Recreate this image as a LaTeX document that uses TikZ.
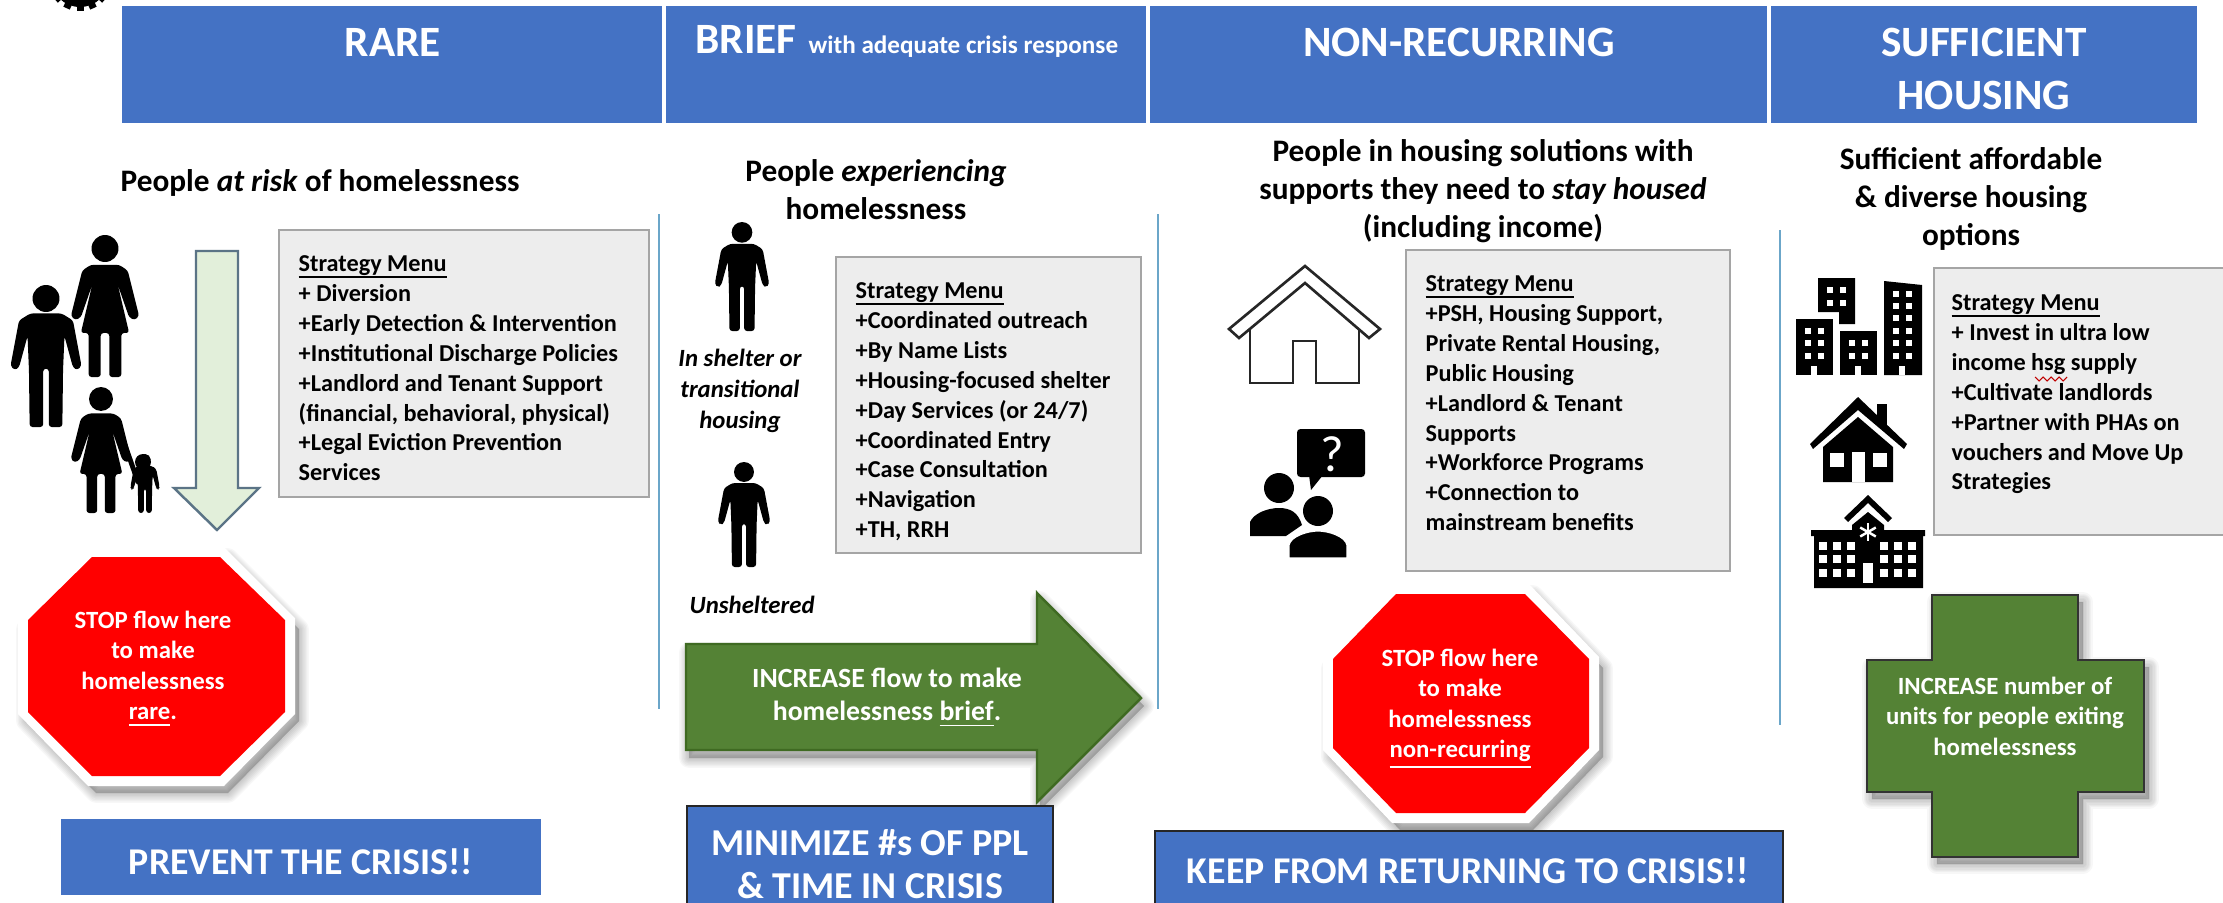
\documentclass[tikz,border=0pt]{standalone}
\usepackage{fontspec}
\setmainfont{Carlito}
\definecolor{hdrblue}{HTML}{4472C4}
\definecolor{menugray}{HTML}{EDEDED}
\definecolor{menuedge}{HTML}{A5A5A5}
\definecolor{flowgreen}{HTML}{548235}
\definecolor{flowedge}{HTML}{3F6A22}
\definecolor{palegreen}{HTML}{E2EFDA}
\definecolor{slateedge}{HTML}{5B7486}
\definecolor{ruleblue}{HTML}{6BA6C9}
\newcommand\fsz[2]{\fontsize{#1}{#2}\selectfont}
\newcommand\softshadow[3]{%
  \begin{scope}[shift={(#1,#2)}]
  \foreach \k in {1,...,7}{\draw[black,opacity=.032,line width=\k*.8pt,line join=round,fill=black] #3;}
  \end{scope}}
\newcommand\manpath{(-11,20)--(-19,25)--(-25,57)--(-22,60)--(-19,58)--(-13,36)--(-12,60)--(-11.5,100)--(-2,100)--(-2,59)--(2,59)--(2,100)--(11.5,100)--(12,60)--(13,36)--(19,58)--(22,60)--(25,57)--(19,25)--(11,20)--cycle}
\newcommand\womanpath{(-10,21)--(-16,25)--(-24,57)--(-21,60)--(-17,58)--(-9,35)--(-17,69)--(-11.5,69)--(-11.5,100)--(-3,100)--(-3,69)--(3,69)--(3,100)--(11.5,100)--(11.5,69)--(17,69)--(9,35)--(17,58)--(21,60)--(24,57)--(16,25)--(10,21)--cycle}
\newcommand\manicon[3]{\begin{scope}[shift={(#1,#2)},scale=#3/100]
  \fill[black] (0,9.5) circle (9.5);
  \fill[black,rounded corners=.8pt] \manpath;\end{scope}}
\newcommand\womanicon[3]{\begin{scope}[shift={(#1,#2)},scale=#3/100]
  \fill[black] (0,9.5) circle (9.5);
  \fill[black,rounded corners=.8pt] \womanpath;\end{scope}}
\newcommand\menuhead{\setbox0\hbox{Strategy Menu}\rlap{\rule[-1.75pt]{\wd0}{.55pt}}\box0}
\tikzset{
  hdrbox/.style={fill=hdrblue,draw=none},
  crisisbox/.style={fill=hdrblue,draw=black!85,line width=.6pt},
  menubox/.style={fill=menugray,draw=menuedge,line width=.7pt},
  menutext/.style={anchor=north west,align=left,inner sep=0pt,font=\fsz{6.9}{8.5}\bfseries},
  subhead/.style={align=center,inner sep=0pt,font=\fsz{8.9}{10.8}\bfseries},
  hdrtext/.style={text=white,align=center,inner sep=0pt,font=\fsz{12.3}{15}\bfseries},
  bottomtext/.style={text=white,align=center,inner sep=0pt,font=\fsz{10.75}{13}\bfseries},
  signtext/.style={text=white,align=center,inner sep=0pt,font=\fsz{7.05}{8.65}\bfseries},
  sidelabel/.style={align=center,inner sep=0pt,font=\fsz{7.05}{8.8}\itshape\bfseries},
  columnrule/.style={draw=ruleblue,line width=.55pt},
  iconline/.style={draw=black!85,line width=.75pt,line join=miter},
}
\begin{document}
\begin{tikzpicture}[x=0.01cm,y=-0.01cm]
\clip (0,0) rectangle (2223,903);
\fill[white] (0,0) rectangle (2223,903);

% gear fragment
\begin{scope}[shift={(80,-22)}]
  \fill[black] (0,0) circle (29);
  \foreach \a in {0,24,...,336}{\fill[black,rotate=\a] (-3.5,27) rectangle (3.5,33);}
\end{scope}

% header bands
\fill[hdrbox] (122,6) rectangle (662,123);
\fill[hdrbox] (666,6) rectangle (1146,123);
\fill[hdrbox] (1150,6) rectangle (1767,123);
\fill[hdrbox] (1771,6) rectangle (2197,123);
\node[hdrtext] (hrare) at (393,42) {RARE};
\node[hdrtext,anchor=base west] (hbrief) at (695,53) {BRIEF};
\node[text=white,inner sep=0pt,anchor=base west,font=\fsz{7.15}{8}\bfseries] (hbriefsub) at (808,53) {with adequate crisis response};
\node[hdrtext] (hnon) at (1459,42) {NON-RECURRING};
\node[hdrtext,font=\fsz{12.3}{15.2}\bfseries] (hsuf) at (1984,69) {SUFFICIENT\\HOUSING};

% sub headings
\node[subhead,anchor=west] (s1) at (120,183) {People \textit{at risk} of homelessness};
\node[subhead] (s2) at (876,190) {People \textit{experiencing}\\homelessness};
\node[subhead] (s3) at (1483,191) {People in housing solutions with\\supports they need to \textit{stay housed}\\(including income)};
\node[subhead] (s4) at (1971,199) {Sufficient affordable\\\& diverse housing\\options};

% column rules
\draw[columnrule] (659,214) -- (659,709);
\draw[columnrule] (1158,214) -- (1158,709);
\draw[columnrule] (1780,230) -- (1780,725);

% pale down arrow
\draw[fill=palegreen,draw=slateedge,line width=.7pt,line join=miter]
  (196,251) -- (238,251) -- (238,488) -- (259,488) -- (217,530) -- (174,488) -- (196,488) -- cycle;

% family icons
\manicon{46}{285}{142}
\womanicon{105}{235}{142}
\womanicon{101}{387}{126}
\draw[black,line width=1.4pt,line cap=round] (119,428) -- (138,482);
\manicon{145}{454}{59}
\fill[black] (143,462) circle (8);

% strategy boxes
\draw[menubox] (279,230) rectangle (649,497);
\node[menutext] (m1) at (298,255) {\menuhead\\+ Diversion\\+Early Detection \& Intervention\\+Institutional Discharge Policies\\+Landlord and Tenant Support\\(financial, behavioral, physical)\\+Legal Eviction Prevention\\Services};

\draw[menubox] (836,257) rectangle (1141,553);
\node[menutext] (m2) at (855,282) {\menuhead\\+Coordinated outreach\\+By Name Lists\\+Housing-focused shelter\\+Day Services (or 24/7)\\+Coordinated Entry\\+Case Consultation\\+Navigation\\+TH, RRH};

\draw[menubox] (1406,250) rectangle (1730,571);
\node[menutext] (m3) at (1425,275) {\menuhead\\+PSH, Housing Support,\\Private Rental Housing,\\Public Housing\\+Landlord \& Tenant\\Supports\\+Workforce Programs\\+Connection to\\mainstream benefits};

\draw[menubox] (1934,268) rectangle (2240,535);
\node[menutext] (m4) at (1951,294) {\menuhead\\+ Invest in ultra low\\income hsg supply\\+Cultivate landlords\\+Partner with PHAs on\\vouchers and Move Up\\Strategies};
\draw[red!75!black,line width=.3pt] (2035,377) -- (2039,381) -- (2043,377) -- (2047,381) -- (2051,377) -- (2055,381) -- (2059,377) -- (2063,381) -- (2067,377);

% people, column 2
\manicon{742}{222}{109}
\manicon{744}{462}{105}
\node[sidelabel] (l1) at (740,391) {In shelter or\\transitional\\housing};
\node[sidelabel,anchor=west] (l2) at (689,605) {Unsheltered};

% house outline
\draw[iconline,fill=white] (1250,325) -- (1250,383) -- (1293,383) -- (1293,341) -- (1316,341) -- (1316,383) -- (1359,383) -- (1359,325);
\draw[iconline,fill=white] (1305,266) -- (1229,329) -- (1239,338) -- (1305,283) -- (1369,338) -- (1380,329) -- cycle;

% conversation icon
\fill[black,rounded corners=1pt] (1297,429) rectangle (1365,477);
\fill[black] (1309,475) -- (1311,490) -- (1323,475) -- cycle;
\node[text=white,inner sep=0pt,font=\fsz{14.5}{15}] (qm) at (1332,454) {?};
\fill[black] (1279,488) circle (15);
\fill[black] (1250,536) -- (1250,522) .. controls (1254,513) and (1268,508) .. (1279,508) .. controls (1290,508) and (1298,512) .. (1302,525) -- (1286,536) -- cycle;
\fill[white] (1318,511) circle (18);
\draw[fill=black,draw=white,line width=.9pt] (1288,559) -- (1288,545) .. controls (1290,535) and (1308,530) .. (1318,530) .. controls (1328,530) and (1346,535) .. (1348,545) -- (1348,559) -- cycle;
\fill[black] (1318,511) circle (15);

% buildings
\fill[black] (1818,278) -- (1855,278) -- (1855,324) -- (1839,324) -- (1839,312) -- (1818,312) -- cycle;
\fill[black] (1796,319) rectangle (1833,375);
\fill[black] (1840,331) rectangle (1877,375);
\fill[black] (1884,281) -- (1922,285) -- (1922,375) -- (1884,375) -- cycle;
\foreach \c in {1830,1843}{\foreach \r in {290,303}{\fill[white] (\c-3,\r-3) rectangle +(6,6);}}
\foreach \c in {1808,1821}{\foreach \r in {331,343,356}{\fill[white] (\c-3,\r-3) rectangle +(6,6);}}
\foreach \c in {1852,1865}{\foreach \r in {343,356}{\fill[white] (\c-3,\r-3) rectangle +(6,6);}}
\foreach \c in {1896,1909}{\foreach \r in {294,306,318,331,343,356}{\fill[white] (\c-3,\r-3) rectangle +(6,6);}}
\foreach \c in {1814,1858,1902}{\fill[white] (\c-3,366) rectangle (\c+3,375);}

% small black house
\fill[black] (1877,404) rectangle (1887,428);
\fill[white] (1858,404) -- (1812,445) -- (1813,452) -- (1858,413) -- (1904,452) -- (1906,445) -- cycle;
\fill[black] (1858,397) -- (1810,444) -- (1813,449) -- (1858,410) -- (1904,449) -- (1907,444) -- cycle;
\fill[black] (1858,417) -- (1823,447) -- (1823,482) -- (1893,482) -- (1893,447) -- cycle;
\fill[white] (1830,453) rectangle (1844,467);
\fill[white] (1873,453) rectangle (1887,467);
\fill[white] (1852,452) rectangle (1865,482);

% institution icon
\fill[black] (1868,495) -- (1844,518) -- (1848,522) -- (1868,503) -- (1888,522) -- (1892,518) -- cycle;
\fill[black] (1868,512) -- (1852,525) -- (1852,530) -- (1811,530) -- (1811,536) -- (1814,536) -- (1814,588) -- (1923,588) -- (1923,536) -- (1925,536) -- (1925,530) -- (1884,530) -- (1884,525) -- cycle;
\foreach \a in {0,60,120}{\draw[white,line width=.7pt,rotate around={\a:(1868,532)}] (1868,523) -- (1868,541);}
\foreach \c in {1823,1837,1851,1884,1898,1912}{\foreach \r in {546,559,573}{\fill[white] (\c-4,\r-4) rectangle +(8,8);}}
\fill[white] (1863,563) rectangle (1873,583);

% stop signs
\softshadow{6}{9}{(90,549) -- (222,549) -- (293,620) -- (293,712) -- (222,784) -- (90,784) -- (20,712) -- (20,620) -- cycle}
\fill[white] (88,547) -- (224,547) -- (295,618) -- (295,714) -- (224,786) -- (88,786) -- (18,714) -- (18,618) -- cycle;
\fill[red] (92,557) -- (220,557) -- (285,620) -- (285,712) -- (220,776) -- (92,776) -- (28,712) -- (28,620) -- cycle;
\node[signtext] (t1) at (153,669) {STOP flow here\\to make\\homelessness\\\underline{rare}.};

\softshadow{6}{9}{(1394,586) -- (1527,586) -- (1597,659) -- (1597,748) -- (1527,821) -- (1394,821) -- (1325,748) -- (1325,659) -- cycle}
\fill[white] (1392,584) -- (1529,584) -- (1599,657) -- (1599,750) -- (1529,823) -- (1392,823) -- (1323,750) -- (1323,657) -- cycle;
\fill[red] (1396,594) -- (1525,594) -- (1589,659) -- (1589,748) -- (1525,813) -- (1396,813) -- (1333,748) -- (1333,659) -- cycle;
\node[signtext] (t2) at (1460,709) {STOP flow here\\to make\\homelessness\\\underline{non-recurring}};

% green arrow
\softshadow{3}{8}{(686,644) -- (1037,644) -- (1037,593) -- (1141,698) -- (1037,802) -- (1037,750) -- (686,750) -- cycle}
\draw[fill=flowgreen,draw=flowedge,line width=.7pt,line join=miter] (686,644) -- (1037,644) -- (1037,593) -- (1141,698) -- (1037,802) -- (1037,750) -- (686,750) -- cycle;
\node[signtext,font=\fsz{7.9}{9.4}\bfseries] (t3) at (887,698) {INCREASE flow to make\\homelessness \underline{brief}.};

% green plus
\softshadow{5}{7}{(1932,595) -- (2078,595) -- (2078,660) -- (2144,660) -- (2144,792) -- (2078,792) -- (2078,857) -- (1932,857) -- (1932,792) -- (1867,792) -- (1867,660) -- (1932,660) -- cycle}
\draw[fill=flowgreen,draw=black!80,line width=.6pt,line join=miter] (1932,595) -- (2078,595) -- (2078,660) -- (2144,660) -- (2144,792) -- (2078,792) -- (2078,857) -- (1932,857) -- (1932,792) -- (1867,792) -- (1867,660) -- (1932,660) -- cycle;
\node[signtext] (t4) at (2005,716) {INCREASE number of\\units for people exiting\\homelessness};

% bottom banners
\fill[hdrbox] (61,819) rectangle (541,895);
\node[bottomtext] (b1) at (301,862) {PREVENT THE CRISIS!!};
\draw[crisisbox] (687,806) rectangle (1053,920);
\node[bottomtext,font=\fsz{10.8}{12.2}\bfseries] (b2) at (870,864) {MINIMIZE \#s OF PPL\\\& TIME IN CRISIS};
\draw[crisisbox] (1155,831) rectangle (1783,920);
\node[bottomtext] (b3) at (1468,871) {KEEP FROM RETURNING TO CRISIS!!};
\end{tikzpicture}
\end{document}
